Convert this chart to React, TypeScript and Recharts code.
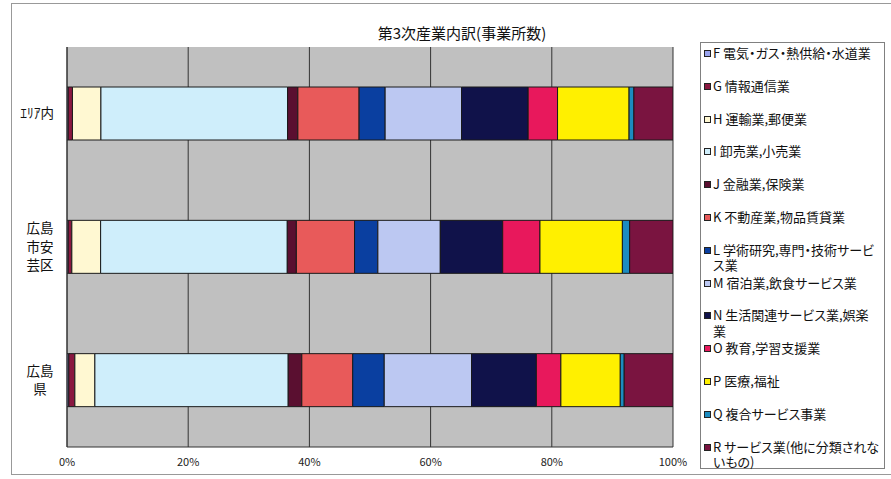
import React from 'react';
import { BarChart, Bar, XAxis, YAxis, CartesianGrid, Legend } from 'recharts';

const titleText = '第3次産業内訳(事業所数)';
const categories = ['ｴﾘｱ内', '広島市安芸区', '広島県'];
const categoryLines = [['ｴﾘｱ内'], ['広島', '市安', '芸区'], ['広島', '県']];
const seriesKeys = ['F', 'G', 'H', 'I', 'J', 'K', 'L', 'M', 'N', 'O', 'P', 'Q', 'R'];
const seriesNames = [
  'F 電気・ガス・熱供給・水道業',
  'G 情報通信業',
  'H 運輸業,郵便業',
  'I 卸売業,小売業',
  'J 金融業,保険業',
  'K 不動産業,物品賃貸業',
  'L 学術研究,専門・技術サービ\nス業',
  'M 宿泊業,飲食サービス業',
  'N 生活関連サービス業,娯楽\n業',
  'O 教育,学習支援業',
  'P 医療,福祉',
  'Q 複合サービス事業',
  'R サービス業(他に分類されな\nいもの)',
];
const areaValues = [0.2, 0.7, 4.7, 30.8, 1.7, 10.1, 4.3, 12.6, 11.0, 4.85, 11.8, 0.8, 6.45];
const akiValues = [0.2, 0.6, 4.75, 30.8, 1.5, 9.6, 3.85, 10.3, 10.3, 6.15, 13.6, 1.2, 7.15];
const prefValues = [0.3, 1.0, 3.3, 31.9, 2.25, 8.4, 5.2, 14.4, 10.7, 4.05, 9.8, 0.65, 8.05];
const xTicks = [0, 20, 40, 60, 80, 100];

const colors = [
  '#9aa4ee', '#8a1840', '#fff8d2', '#cfeefb', '#5a0f30', '#e85a5a', '#0a3fa0',
  '#bcc8f2', '#10124a', '#e8185c', '#fff000', '#1c8cc0', '#7a1440',
];

const valueRows = [areaValues, akiValues, prefValues];
const data = categories.map((name, ci) => {
  const row: Record<string, any> = { name };
  seriesKeys.forEach((k, si) => {
    row[k] = valueRows[ci][si];
  });
  return row;
});

const FONT = '"Noto Sans CJK JP", "Noto Sans", sans-serif';

const CategoryTick = (props: any) => {
  const { x, y, payload } = props;
  const ci = categories.indexOf(payload.value);
  const lines = categoryLines[ci] || [String(payload.value)];
  const lh = 18.5;
  const startY = y - ((lines.length - 1) * lh) / 2;
  const single = lines.length === 1;
  return (
    <g>
      {lines.map((ln: string, i: number) => (
        <text
          key={i}
          x={single ? x - 13 : x - 27}
          y={startY + i * lh}
          dy="0.35em"
          textAnchor={single ? 'end' : 'middle'}
          fontSize={13.5}
          fontFamily={FONT}
          fill="#111"
        >
          {ln}
        </text>
      ))}
    </g>
  );
};

const LegendBox = (props: any) => {
  const payload = (props && props.payload) || [];
  const items = seriesKeys.map((k, i) => {
    const p = payload.find((e: any) => e.dataKey === k);
    return { name: p ? p.value : seriesNames[i], color: p ? p.color : colors[i] };
  });
  return (
    <div
      style={{
        position: 'relative',
        width: 185,
        height: 427,
        border: '1px solid #808080',
        boxSizing: 'border-box',
        background: '#fff',
        fontFamily: FONT,
        fontSize: 13,
        fontFeatureSettings: '"palt"',
        color: '#111',
      }}
    >
      {items.map((it, i) => (
        <div
          key={i}
          style={{
            position: 'absolute',
            left: 3,
            top: 10 + i * 32.8 - 8,
            display: 'flex',
            alignItems: 'flex-start',
          }}
        >
          <span
            style={{
              display: 'inline-block',
              width: 5,
              height: 5,
              border: '1px solid #222',
              background: it.color,
              marginTop: 5,
              marginRight: 2,
              flex: 'none',
            }}
          />
          <span style={{ whiteSpace: 'pre', lineHeight: '15.5px' }}>{it.name}</span>
        </div>
      ))}
    </div>
  );
};

export default function App() {
  return (
    <div
      style={{
        position: 'absolute',
        left: 0,
        top: 0,
        width: 891,
        height: 479,
        overflow: 'hidden',
        background: '#fff',
      }}
    >
      <div
        style={{
          position: 'absolute',
          left: 11,
          top: 3,
          width: 900,
          height: 470,
          border: '1px solid #999',
        }}
      />
      <div
        style={{
          position: 'absolute',
          left: 262,
          width: 400,
          top: 24,
          lineHeight: '18px',
          textAlign: 'center',
          fontFamily: FONT,
          fontSize: 15,
          fontFeatureSettings: '"palt"',
          color: '#111',
        }}
      >
        {titleText}
      </div>
      <div style={{ position: 'absolute', left: 0, top: 0 }}>
        <BarChart
          width={891}
          height={479}
          data={data}
          layout="vertical"
          margin={{ top: 47, right: 218, bottom: 2, left: 10 }}
          barCategoryGap="30%"
        >
          <CartesianGrid horizontal={false} stroke="#333" fill="#c0c0c0" fillOpacity={1} />
          <XAxis
            type="number"
            domain={[0, 100]}
            ticks={xTicks}
            tickFormatter={(v: number) => `${v}%`}
            tickLine={false}
            tickMargin={5}
            axisLine={{ stroke: '#333' }}
            tick={{ fontSize: 11, fill: '#222', fontFamily: FONT }}
            height={30}
            allowDataOverflow
          />
          <XAxis
            xAxisId="top"
            orientation="top"
            type="number"
            domain={[0, 100]}
            tick={false}
            tickLine={false}
            axisLine={{ stroke: '#333' }}
            height={0}
          />
          <YAxis
            type="category"
            dataKey="name"
            width={57}
            tickLine={false}
            tickSize={0}
            tickMargin={0}
            axisLine={{ stroke: '#333' }}
            tick={<CategoryTick />}
          />
          <Legend
            layout="vertical"
            align="center"
            verticalAlign="middle"
            wrapperStyle={{ left: 700, top: 42, width: 185, height: 427 }}
            content={<LegendBox />}
          />
          {seriesKeys.map((k, i) => (
            <Bar
              key={k}
              dataKey={k}
              name={seriesNames[i]}
              stackId="a"
              fill={colors[i]}
              stroke="#1a1a1a"
              strokeWidth={1}
              isAnimationActive={false}
            />
          ))}
        </BarChart>
      </div>
    </div>
  );
}
